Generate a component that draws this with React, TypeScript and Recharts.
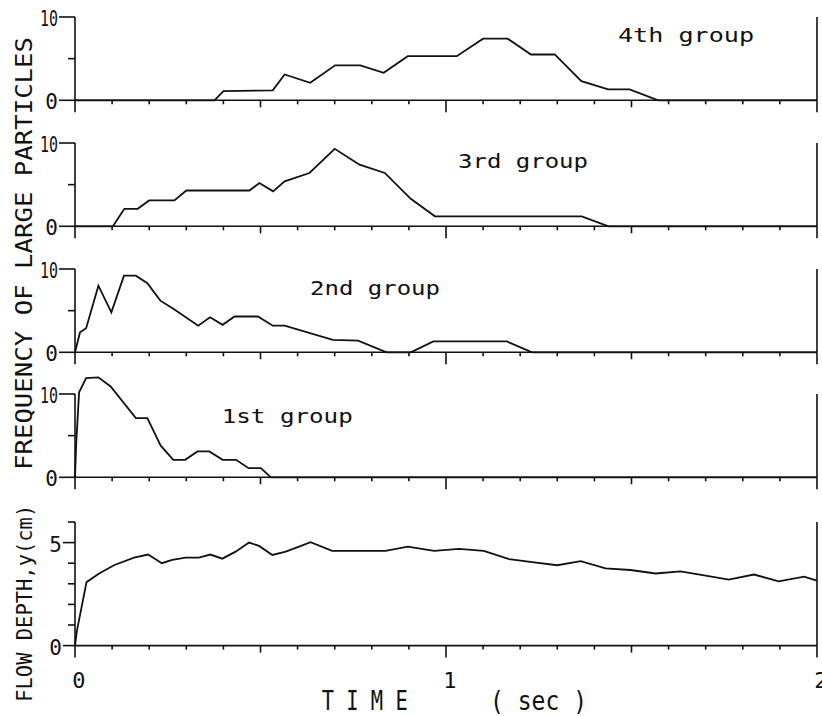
import React from 'react';
import { LineChart, Line, XAxis, YAxis, ReferenceLine } from 'recharts';

// ---- data (time in sec) ----
const group4Time = [0, 0.376, 0.4, 0.533, 0.565, 0.634, 0.701, 0.769, 0.832, 0.897, 1.029, 1.1, 1.166, 1.229, 1.293, 1.365, 1.437, 1.495, 1.572, 2.0];
const group4Freq = [0, 0, 1.1, 1.2, 3.1, 2.1, 4.2, 4.2, 3.3, 5.3, 5.3, 7.4, 7.4, 5.5, 5.5, 2.3, 1.3, 1.3, 0, 0];

const group3Time = [0, 0.102, 0.133, 0.169, 0.2, 0.268, 0.3, 0.47, 0.497, 0.534, 0.565, 0.632, 0.7, 0.767, 0.835, 0.905, 0.97, 1.366, 1.438, 2.0];
const group3Freq = [0, 0, 2.1, 2.1, 3.1, 3.1, 4.3, 4.3, 5.2, 4.2, 5.4, 6.4, 9.3, 7.4, 6.4, 3.3, 1.2, 1.2, 0, 0];

const group2Time = [0, 0.0135, 0.03, 0.063, 0.098, 0.132, 0.164, 0.195, 0.23, 0.263, 0.332, 0.364, 0.398, 0.43, 0.493, 0.533, 0.565, 0.695, 0.763, 0.84, 0.905, 0.966, 1.164, 1.232, 2.0];
const group2Freq = [0, 2.4, 2.9, 8.0, 4.8, 9.2, 9.2, 8.3, 6.2, 5.3, 3.2, 4.2, 3.3, 4.3, 4.3, 3.2, 3.2, 1.5, 1.4, 0, 0, 1.3, 1.3, 0, 0];

const group1Time = [0, 0.0035, 0.011, 0.03, 0.063, 0.096, 0.164, 0.195, 0.231, 0.265, 0.297, 0.33, 0.362, 0.398, 0.434, 0.468, 0.501, 0.528, 2.0];
const group1Freq = [0, 4.3, 10.2, 11.9, 12.0, 10.9, 7.1, 7.1, 3.8, 2.1, 2.1, 3.1, 3.1, 2.1, 2.1, 1.1, 1.1, 0, 0];

const depthTime = [0, 0.005, 0.031, 0.065, 0.105, 0.159, 0.197, 0.234, 0.262, 0.298, 0.334, 0.365, 0.397, 0.433, 0.469, 0.496, 0.532, 0.568, 0.604, 0.635, 0.693, 0.837, 0.897, 0.968, 1.035, 1.102, 1.17, 1.232, 1.3, 1.363, 1.43, 1.497, 1.565, 1.632, 1.7, 1.762, 1.83, 1.897, 1.965, 2.0];
const depthCm = [0, 0.7, 3.08, 3.5, 3.9, 4.27, 4.42, 4.0, 4.16, 4.27, 4.27, 4.42, 4.22, 4.56, 5.0, 4.84, 4.4, 4.56, 4.8, 5.02, 4.6, 4.6, 4.8, 4.6, 4.7, 4.6, 4.2, 4.05, 3.9, 4.1, 3.75, 3.67, 3.5, 3.6, 3.4, 3.2, 3.45, 3.12, 3.35, 3.15];

// ---- ticks / labels ----
const timeTicks = [0, 0.1, 0.2, 0.3, 0.4, 0.5, 0.6, 0.7, 0.8, 0.9, 1, 1.1, 1.2, 1.3, 1.4, 1.5, 1.6, 1.7, 1.8, 1.9, 2];
const timeLabels = [0, 1, 2];
const freqTicks = [0, 5, 10];
const freqLabels = [0, 10];
const freqRightTicks = [5, 10];
const freqAxisTop = 10;
const depthTicks = [0, 1, 2, 3, 4, 5, 6];
const depthLabels = [0, 5];
const depthRightTicks = [1, 2, 3, 4, 5, 6];
const depthAxisTop = 6;

const groupLabels = ['4th group', '3rd group', '2nd group', '1st group'];
const yTitleFreq = 'FREQUENCY OF LARGE PARTICLES';
const yTitleDepth = 'FLOW DEPTH,y(cm)';
const xTitle = 'T I M E';
const xUnit = '( sec )';

const FONT = "'DejaVu Sans Mono', 'Liberation Mono', monospace";
const W = 822;
const INK = '#111';

const zip = (ts: number[], vs: number[]) => ts.map((t, i) => ({ t, v: vs[i] }));

function makeXTick(showLabels: boolean) {
  return (props: any) => {
    const { x, y, payload } = props;
    const v = payload.value as number;
    const r = Math.round(v * 10);
    const len = r % 10 === 0 ? 12 : r % 5 === 0 ? 7 : 4;
    return (
      <g>
        <line x1={x} x2={x} y1={y} y2={y + len} stroke={INK} strokeWidth={1.6} />
        {showLabels && timeLabels.includes(v) && (
          <text x={x + 4} y={y + 42} textAnchor="middle" fontFamily={FONT} fontSize={22} fill={INK}>
            {v}
          </text>
        )}
      </g>
    );
  };
}

function makeLeftTick(labels: number[], majorLen: number, minorLen: number) {
  return (props: any) => {
    const { x, y, payload } = props;
    const v = payload.value as number;
    const lab = labels.includes(v);
    const len = lab ? majorLen : minorLen;
    const s = String(v);
    return (
      <g>
        <line x1={x - len} x2={x} y1={y} y2={y} stroke={INK} strokeWidth={1.6} />
        {lab && (
          <text
            x={x - len - 1}
            y={y + 9}
            textAnchor="end"
            fontFamily={FONT}
            fontSize={21}
            fill={INK}
            {...(s.length > 1 ? { textLength: 18, lengthAdjust: 'spacingAndGlyphs' } : {})}
          >
            {s}
          </text>
        )}
      </g>
    );
  };
}

function makeRightTick(len: number) {
  return (props: any) => {
    const { x, y } = props;
    return <line x1={x - len} x2={x} y1={y} y2={y} stroke={INK} strokeWidth={1.6} />;
  };
}

type PanelProps = {
  data: { t: number; v: number }[];
  plotTop: number;
  plotBottom: number;
  domainMax: number;
  axisTop: number;
  yTicks: number[];
  yLabels: number[];
  rightTicks: number[];
  majorLen: number;
  minorLen: number;
  showXLabels: boolean;
  xAxisHeight: number;
};

function Panel(p: PanelProps) {
  const mT = 16;
  const h = mT + (p.plotBottom - p.plotTop) + p.xAxisHeight;
  return (
    <div style={{ position: 'absolute', left: 0, top: p.plotTop - mT, width: W, height: h }}>
      <LineChart width={W} height={h} data={p.data} margin={{ top: mT, right: 0, bottom: 0, left: 0 }}>
        <XAxis
          dataKey="t"
          type="number"
          domain={[0, 2]}
          ticks={timeTicks}
          interval={0}
          height={p.xAxisHeight}
          tickLine={false}
          tickSize={0}
          tickMargin={0}
          axisLine={{ stroke: INK, strokeWidth: 1.6 }}
          tick={makeXTick(p.showXLabels)}
        />
        <YAxis
          yAxisId="l"
          type="number"
          domain={[0, p.domainMax]}
          ticks={p.yTicks}
          interval={0}
          width={75}
          axisLine={false}
          tickLine={false}
          tickSize={0}
          tickMargin={0}
          tick={makeLeftTick(p.yLabels, p.majorLen, p.minorLen)}
        />
        <YAxis
          yAxisId="r"
          orientation="right"
          type="number"
          domain={[0, p.domainMax]}
          ticks={p.rightTicks}
          interval={0}
          width={5}
          axisLine={false}
          tickLine={false}
          tickSize={0}
          tickMargin={0}
          tick={makeRightTick(7)}
        />
        <ReferenceLine
          yAxisId="l"
          segment={[{ x: 0, y: 0 }, { x: 0, y: p.axisTop }]}
          stroke={INK}
          strokeWidth={1.6}
        />
        <ReferenceLine
          yAxisId="l"
          segment={[{ x: 2, y: 0 }, { x: 2, y: p.axisTop }]}
          stroke={INK}
          strokeWidth={1.6}
        />
        <Line
          yAxisId="l"
          type="linear"
          dataKey="v"
          stroke={INK}
          strokeWidth={1.8}
          dot={false}
          activeDot={false}
          isAnimationActive={false}
        />
      </LineChart>
    </div>
  );
}

export default function App() {
  const freqCommon = {
    axisTop: freqAxisTop,
    yTicks: freqTicks,
    yLabels: freqLabels,
    rightTicks: freqRightTicks,
    majorLen: 16,
    minorLen: 7,
    showXLabels: false,
    xAxisHeight: 14,
  };
  return (
    <div style={{ position: 'absolute', left: 0, top: 0, width: W, height: 716, background: '#fff', overflow: 'hidden' }}>
      <Panel data={zip(group4Time, group4Freq)} plotTop={16.7} plotBottom={100} domainMax={10} {...freqCommon} />
      <Panel data={zip(group3Time, group3Freq)} plotTop={143.2} plotBottom={226.5} domainMax={10} {...freqCommon} />
      <Panel data={zip(group2Time, group2Freq)} plotTop={269.2} plotBottom={352.5} domainMax={10} {...freqCommon} />
      <Panel data={zip(group1Time, group1Freq)} plotTop={369.2} plotBottom={477.5} domainMax={13} {...freqCommon} />
      <Panel
        data={zip(depthTime, depthCm)}
        plotTop={521.9}
        plotBottom={645.5}
        domainMax={6}
        axisTop={depthAxisTop}
        yTicks={depthTicks}
        yLabels={depthLabels}
        rightTicks={depthRightTicks}
        majorLen={12}
        minorLen={7}
        showXLabels={true}
        xAxisHeight={60}
      />
      <svg width={W} height={716} style={{ position: 'absolute', left: 0, top: 0, pointerEvents: 'none' }}>
        <g fontFamily={FONT} fill={INK}>
          <text x={618} y={41.7} fontSize={19} textLength={136} lengthAdjust="spacingAndGlyphs">{groupLabels[0]}</text>
          <text x={458} y={168.3} fontSize={19} textLength={130} lengthAdjust="spacingAndGlyphs">{groupLabels[1]}</text>
          <text x={310} y={295} fontSize={19} textLength={130} lengthAdjust="spacingAndGlyphs">{groupLabels[2]}</text>
          <text x={221.7} y={423.3} fontSize={19} textLength={131} lengthAdjust="spacingAndGlyphs">{groupLabels[3]}</text>
          <text transform="translate(31.5,253.5) rotate(-90)" textAnchor="middle" fontSize={23} textLength={433} lengthAdjust="spacingAndGlyphs">{yTitleFreq}</text>
          <text transform="translate(31.5,603.3) rotate(-90)" textAnchor="middle" fontSize={22} textLength={197} lengthAdjust="spacingAndGlyphs">{yTitleDepth}</text>
          <text x={321.7} y={710} fontSize={26} textLength={86} lengthAdjust="spacingAndGlyphs">{xTitle}</text>
          <text x={490} y={710} fontSize={26} textLength={97} lengthAdjust="spacingAndGlyphs">{xUnit}</text>
        </g>
      </svg>
    </div>
  );
}
